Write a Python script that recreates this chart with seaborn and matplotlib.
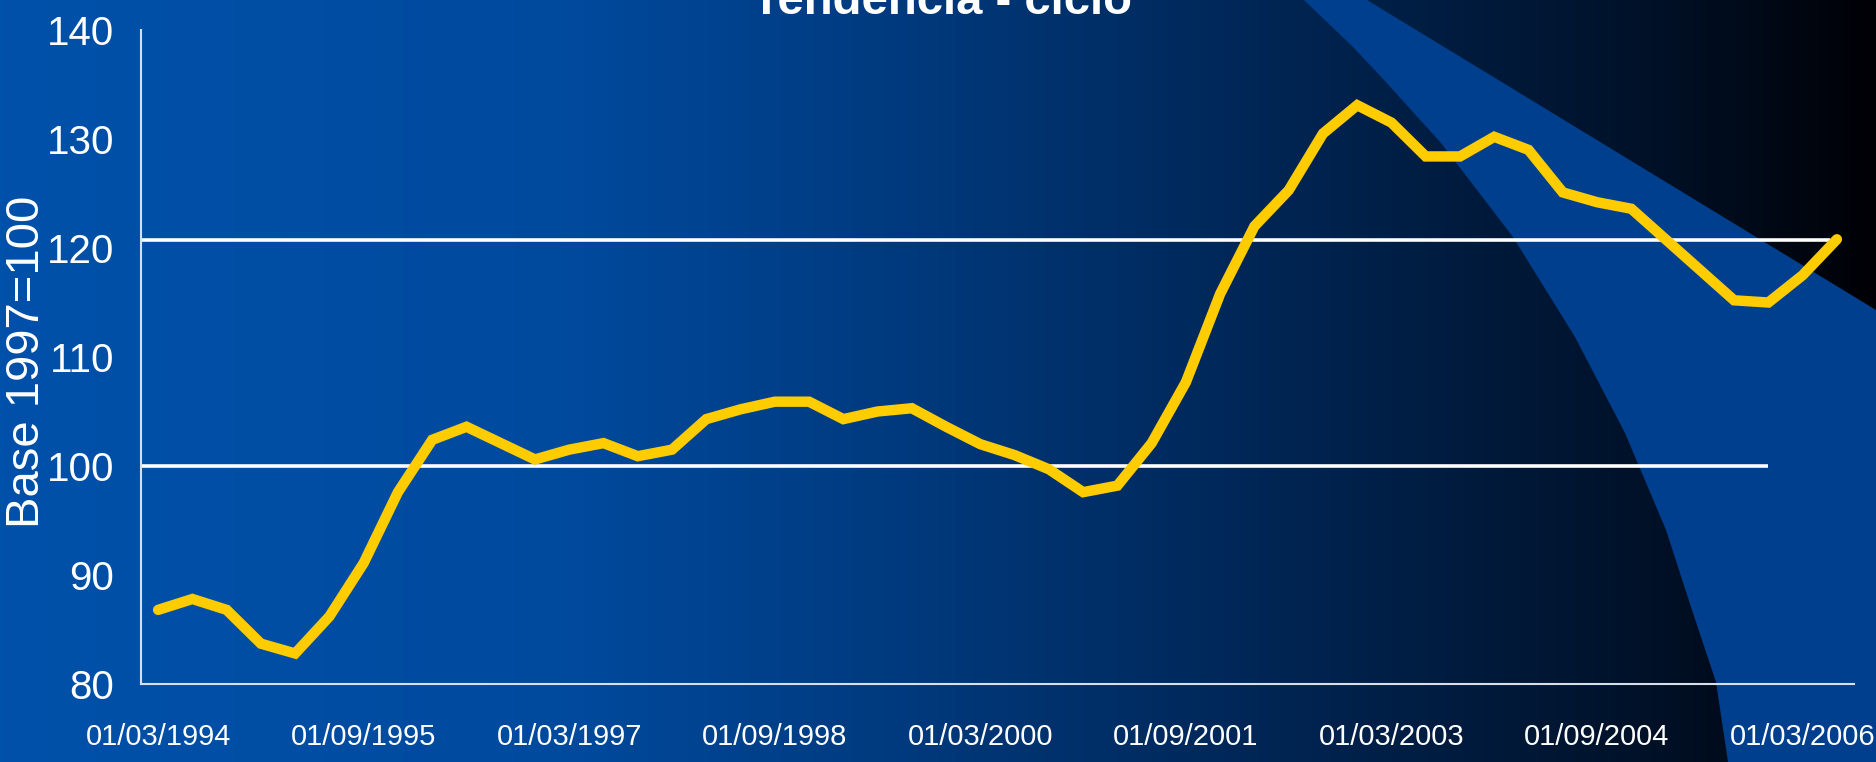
import numpy as np
import pandas as pd
import matplotlib
matplotlib.use("Agg")
import matplotlib.pyplot as plt
from matplotlib.patches import Polygon
import seaborn as sns

# ---------------- data ----------------
quarters = [d.strftime("%d/%m/%Y") for d in pd.date_range("1994-03-01", periods=50, freq="3MS")]
values = [86.8, 87.8, 86.8, 83.7, 82.8, 86.2, 91.1, 97.6, 102.4, 103.6,
          102.1, 100.6, 101.5, 102.1, 100.9, 101.5, 104.3, 105.2, 105.9, 105.9,
          104.3, 105.0, 105.3, 103.6, 102.0, 101.0, 99.7, 97.6, 98.2, 102.1,
          107.7, 115.8, 122.0, 125.3, 130.5, 133.1, 131.5, 128.4, 128.4, 130.2,
          129.0, 125.1, 124.2, 123.6, 120.8, 118.0, 115.2, 115.0, 117.5, 120.8]
tick_labels = ["01/03/1994", "01/09/1995", "01/03/1997", "01/09/1998", "01/03/2000",
               "01/09/2001", "01/03/2003", "01/09/2004", "01/03/2006"]
ref_upper = 120.7
ref_lower = 100.0
y_ticks = [80, 90, 100, 110, 120, 130, 140]
title = "Tendencia - ciclo"
ylabel = "Base 1997=100"

df = pd.DataFrame({"idx": np.arange(len(quarters)), "fecha": quarters, "valor": values})

# ---------------- figure ----------------
W, H, DPI = 1876, 762, 100
sns.set_theme(style="white")
plt.rcParams["font.family"] = ["Liberation Sans", "DejaVu Sans"]
fig = plt.figure(figsize=(W / DPI, H / DPI), dpi=DPI)

# background gradient + swoosh
bg = fig.add_axes([0, 0, 1, 1], zorder=-10)
stops = np.array([0.0, 0.3, 0.5, 0.7, 0.88, 0.97, 1.0])
cols = np.array([[0x00, 0x51, 0xAA], [0x00, 0x4A, 0x9E], [0x00, 0x38, 0x7A],
                 [0x00, 0x23, 0x4F], [0x00, 0x11, 0x28], [0x00, 0x05, 0x0E],
                 [0x00, 0x00, 0x05]]) / 255.0
xs = np.linspace(0, 1, 600)
grad = np.stack([np.interp(xs, stops, cols[:, c]) for c in range(3)], axis=-1)[None, :, :]
bg.imshow(grad, aspect="auto", extent=[0, W, H, 0])
swoosh = [(1304, 0), (1353, 47), (1384, 80), (1441, 143), (1513, 237), (1575, 337),
          (1625, 433), (1666, 530), (1692, 610), (1716, 682), (1728, 762),
          (W, H), (W, 310), (1367, 0)]
bg.add_patch(Polygon(swoosh, closed=True, facecolor="#003F8E", edgecolor="none"))
bg.set_xlim(0, W)
bg.set_ylim(H, 0)
bg.axis("off")

# main axes
ax = fig.add_axes([141 / W, 1 - 684 / H, (1854 - 141) / W, (684 - 30) / H])
ax.set_facecolor("none")

n = len(quarters)
ax.hlines(ref_upper, -0.55, n - 1.2, color="white", lw=2.6, zorder=2)
ax.hlines(ref_lower, -0.5, n - 3, color="white", lw=2.6, zorder=2)

sns.lineplot(data=df, x="idx", y="valor", ax=ax, color="#FFCC00", lw=7.5,
             solid_capstyle="round", solid_joinstyle="miter", zorder=3)

ax.set_xlim(-0.5, n - 0.5)
ax.set_ylim(80, 140)

# x ticks: marks between categories, labels at category centers
pos = [quarters.index(t) for t in tick_labels]
ax.set_xticks(pos)
ax.set_xticklabels(tick_labels)
ax.set_xticks(np.arange(-0.5, n, 1.0), minor=True)
ax.tick_params(axis="x", which="major", length=0, pad=28, labelsize=21, labelcolor="white")
ax.tick_params(axis="x", which="minor", length=7.5, width=1.2, color="#D8DEEA", direction="out")
ax.set_yticks(y_ticks)
ax.tick_params(axis="y", which="major", length=7.5, width=1.2, color="#D8DEEA",
               direction="out", pad=12, labelsize=29, labelcolor="white")
ax.tick_params(axis="y", which="minor", length=0)

ax.set_xlabel("")
ax.set_ylabel("")
for s in ["top", "right"]:
    ax.spines[s].set_visible(False)
for s in ["left", "bottom"]:
    ax.spines[s].set_color("#D8DEEA")
    ax.spines[s].set_linewidth(1.5)
ax.grid(False)

fig.text(27 / W, 1 - 362 / H, ylabel, rotation=90, ha="center", va="center",
         color="white", fontsize=34)
fig.text(942 / W, 1 - 14 / H, title, ha="center", va="baseline", color="white",
         fontsize=34, fontweight="bold")

fig.savefig("out.png", dpi=DPI)
